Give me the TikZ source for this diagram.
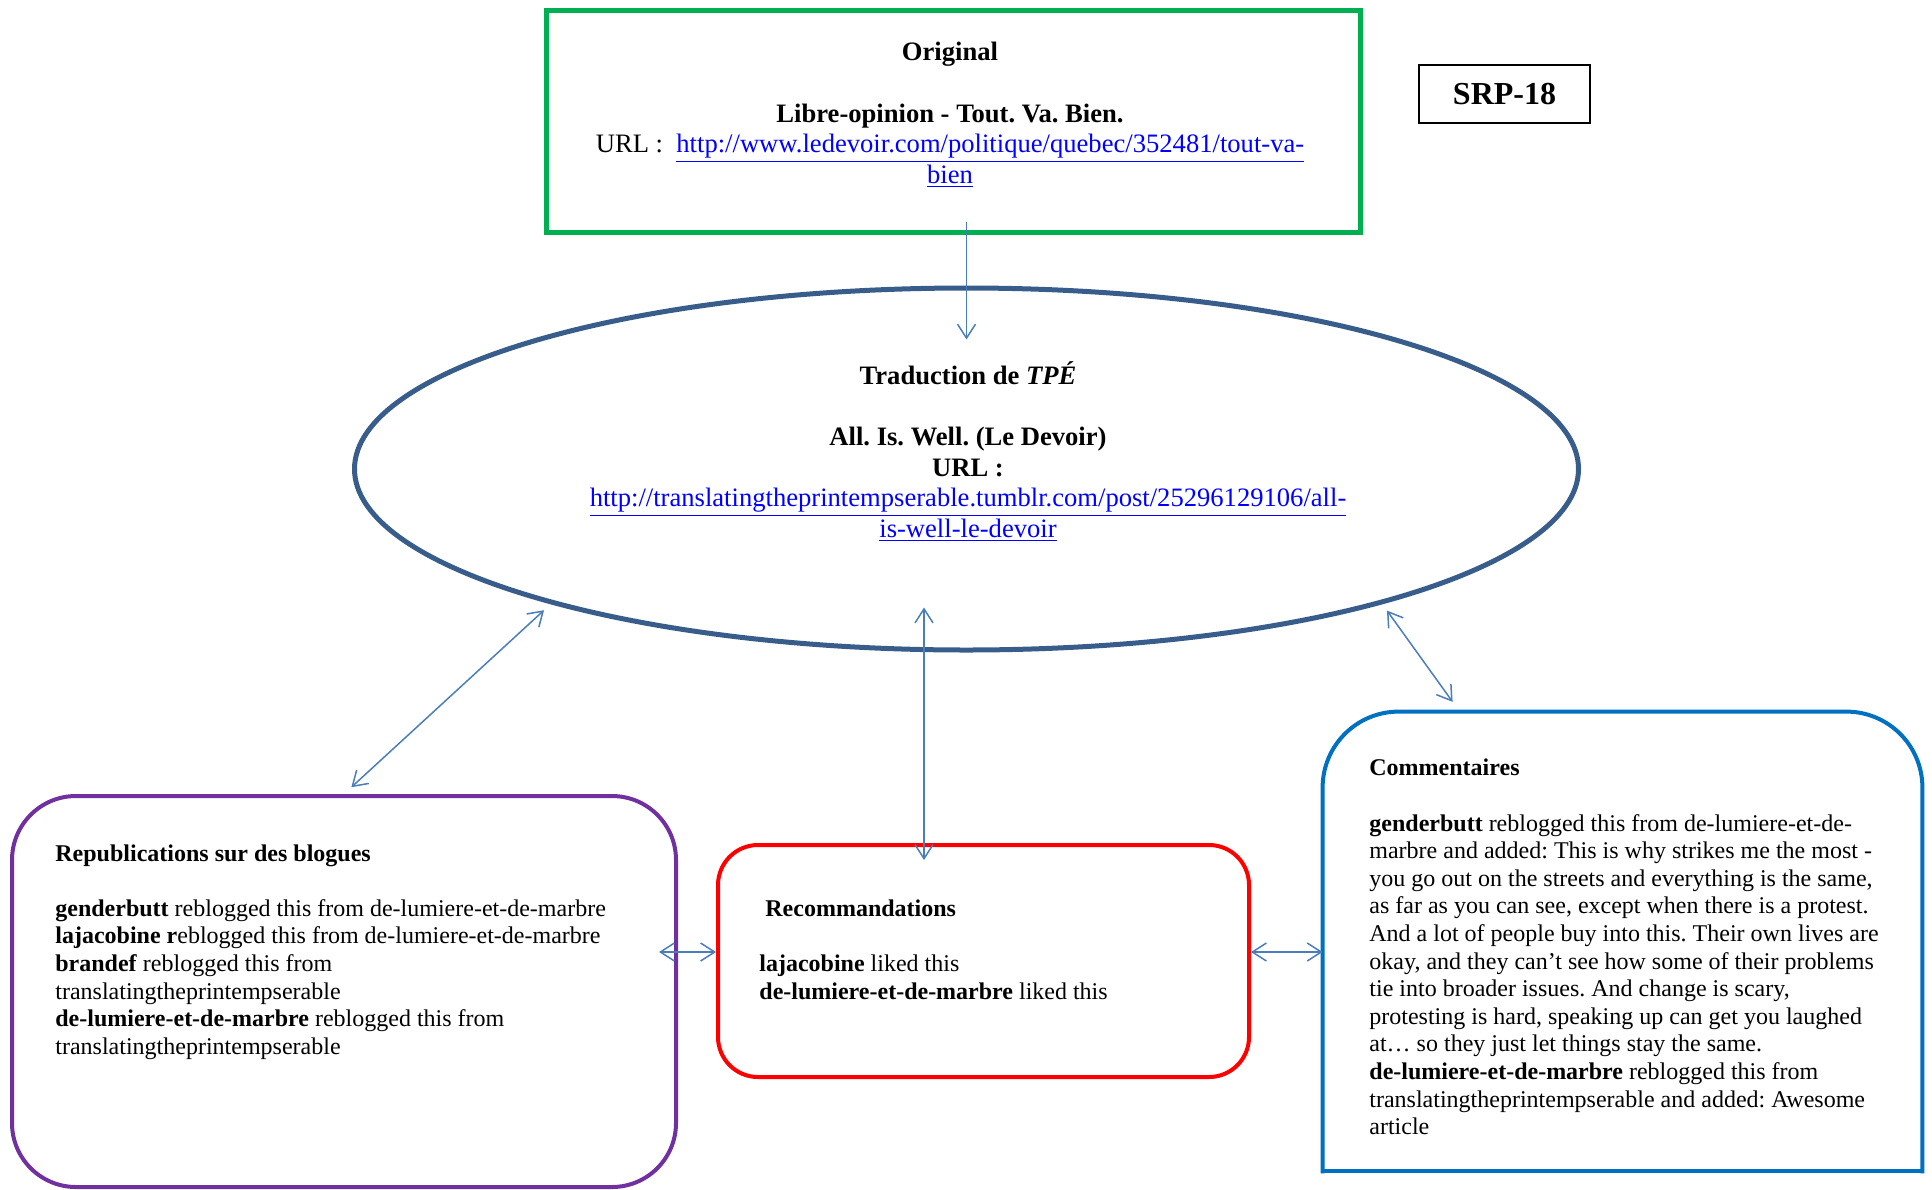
\documentclass[tikz,border=0pt]{standalone}
\usepackage{xcolor}
\usepackage{fontspec}
\setmainfont{Liberation Serif}
\usepackage{tikz}
\usetikzlibrary{shapes.geometric, arrows.meta, positioning, calc}
\definecolor{origgreen}{HTML}{00B050}
\definecolor{tradblue}{HTML}{385D8A}
\definecolor{repubpurple}{HTML}{7030A0}
\definecolor{recored}{HTML}{FF0000}
\definecolor{commblue}{HTML}{0070C0}
\definecolor{linkarrow}{HTML}{4A7EBB}
\definecolor{urlblue}{HTML}{0000FF}
\newcommand{\weblink}[1]{\textcolor{urlblue}{\underline{#1}}}
\frenchspacing

\begin{document}
\begin{tikzpicture}[
    x=0.5pt, y=-0.5pt,
    bigtext/.style={inner sep=0pt, align=center, font=\fontsize{13.3}{15.3}\selectfont},
    smalltext/.style={inner sep=0pt, align=left, anchor=west, font=\fontsize{12}{13.8}\selectfont},
    origbox/.style={rectangle, draw=origgreen, line width=2.5pt, minimum width=407pt, minimum height=111pt},
    tradell/.style={ellipse, draw=tradblue, line width=2.5pt, minimum width=612pt, minimum height=181pt},
    repubbox/.style={rectangle, rounded corners=32pt, draw=repubpurple, line width=2pt, minimum width=332pt, minimum height=195.5pt},
    recobox/.style={rectangle, rounded corners=20pt, draw=recored, line width=2pt, minimum width=265.5pt, minimum height=116pt},
    commbox/.style={rectangle, minimum width=299.5pt, minimum height=229.5pt},
    commline/.style={draw=commblue, line width=2pt, line cap=rect},
    link/.style={{Straight Barb[length=7pt, width=9pt]}-{Straight Barb[length=7pt, width=9pt]}, line width=0.75pt, color=linkarrow},
    onelink/.style={-{Straight Barb[length=7pt, width=9pt]}, line width=0.75pt, color=linkarrow}
]
\useasboundingbox (0,0) rectangle (1932,1189);

% Shapes
\node[origbox] (orig) at (953,121) {};
\node[tradell] (trad) at (966.5,469) {};
\node[repubbox] (repub) at (344,991.5) {};
\node[recobox] (reco) at (983.5,961) {};
\node[commbox] (comm) at (1622.5,941.5) {};
\draw[commline, rounded corners=38pt] (comm.south west) -- (comm.north west) -- (comm.north east) -- (comm.south east);
\draw[commline] (comm.south west) -- (comm.south east);
\node[draw, line width=1pt, minimum width=85.5pt, minimum height=29pt, font=\fontsize{16}{18}\selectfont\bfseries] (srp) at (1504.5,94) {SRP-18};

% Texts
\node[bigtext] (origtxt) at (950,115) {\textbf{Original}\\[15.3pt]
  \textbf{Libre-opinion - Tout. Va. Bien.}\\
  URL :\ \ \weblink{http://www.ledevoir.com/politique/quebec/352481/tout-va-}\\
  \weblink{bien}};
\node[bigtext] (tradtxt) at (968,451.5) {\textbf{Traduction de \textit{TPÉ}}\\[15.3pt]
  \textbf{All. Is. Well. (Le Devoir)}\\
  \textbf{URL :}\\
  \weblink{http://translatingtheprintempserable.tumblr.com/post/25296129106/all-}\\
  \weblink{is-well-le-devoir}};
\node[smalltext] (reputxt) at (55,952) {\textbf{Republications sur des blogues}\\[13.8pt]
  \textbf{genderbutt} reblogged this from de-lumiere-et-de-marbre\\
  \textbf{lajacobine r}eblogged this from de-lumiere-et-de-marbre\\
  \textbf{brandef} reblogged this from\\
  translatingtheprintempserable\\
  \textbf{de-lumiere-et-de-marbre} reblogged this from\\
  translatingtheprintempserable};
\node[smalltext] (recotxt) at (759,949.5) {\hspace*{3pt}\textbf{Recommandations}\\[13.8pt]
  \textbf{lajacobine} liked this\\
  \textbf{de-lumiere-et-de-marbre} liked this};
\node[smalltext] (commtxt) at (1369,947) {\textbf{Commentaires}\\[13.8pt]
  \textbf{genderbutt} reblogged this from de-lumiere-et-de-\\
  marbre and added: This is why strikes me the most -\\
  you go out on the streets and everything is the same,\\
  as far as you can see, except when there is a protest.\\
  And a lot of people buy into this. Their own lives are\\
  okay, and they can’t see how some of their problems\\
  tie into broader issues. And change is scary,\\
  protesting is hard, speaking up can get you laughed\\
  at… so they just let things stay the same.\\
  \textbf{de-lumiere-et-de-marbre} reblogged this from\\
  translatingtheprintempserable and added: Awesome\\
  article};

% Connectors
\draw[onelink, shorten <=-6.5pt, shorten >=-27pt] (trad.north |- orig.south) -- (trad.north);
\draw[link, shorten <=4.5pt, shorten >=5pt] (trad.198.1) -- (repub.north);
\draw[link, shorten <=-22.5pt, shorten >=-8.5pt] ([xshift=-29.75pt]reco.north |- trad.south) -- ([xshift=-29.75pt]reco.north);
\draw[link, shorten <=4pt, shorten >=6pt] (trad.342.4) -- ([xshift=68.5pt]comm.north west);
\draw[link, shorten >=-9.5pt] ([yshift=4.5pt]reco.west) -- ([yshift=4.5pt]reco.west -| repub.east);
\draw[link] ([yshift=4.5pt]reco.east) -- ([yshift=4.5pt]reco.east -| comm.west);

\end{tikzpicture}
\end{document}
